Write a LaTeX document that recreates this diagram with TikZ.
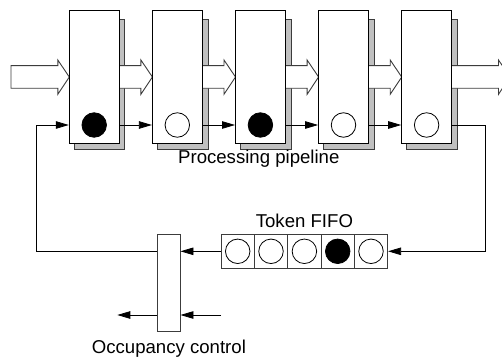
\documentclass[tikz,border=0pt]{standalone}
\usepackage{fontspec}
\setmainfont{Liberation Sans}
\usetikzlibrary{arrows.meta}
\definecolor{shade}{RGB}{192,192,192}
\definecolor{edge}{RGB}{60,60,60}
\tikzset{
  x=1pt, y=-1pt,
  stage/.style={draw=black, line width=0.8pt, fill=white, minimum width=50pt, minimum height=133.3pt, inner sep=0pt},
  shadowbox/.style={draw=edge, line width=0.8pt, fill=shade},
  token/.style={circle, draw=black, line width=0.8pt, minimum size=24.5pt, inner sep=0pt},
  full/.style={token, fill=black},
  empty/.style={token, fill=white},
  flow/.style={draw=edge, line width=0.9pt, fill=white},
  wire/.style={draw=black, line width=0.8pt},
  arr/.style={wire, -{Triangle[length=13pt, width=7.5pt]}},
  cell/.style={draw=edge, line width=0.8pt, fill=white, minimum width=33.3pt, minimum height=34pt, inner sep=0pt},
  ctrl/.style={draw=edge, line width=0.8pt, fill=white, minimum width=22.3pt, minimum height=97.4pt, inner sep=0pt},
  lbl/.style={font=\fontsize{18.6}{20}\selectfont, inner sep=0pt}
}
\begin{document}
\begin{tikzpicture}
\useasboundingbox (0,0) rectangle (502,358);
\clip (0,0) rectangle (502,358);

% drop shadows behind the pipeline stages
\foreach \i in {0,...,4}{
  \pgfmathsetmacro{\xl}{69.3+83.1*\i}
  \draw[shadowbox] (\xl+5,19) rectangle (\xl+55.5,149.3);
}

% wide data-flow arrows (left end open when leaving a stage)
\draw[flow] (11,65.7) -- (57.8,65.7) -- (57.8,60) -- (69.3,77) -- (57.8,94.3) -- (57.8,88.3) -- (11,88.3) -- cycle;
\foreach \i/\xb in {0/152.4,1/235.5,2/318.6,3/401.7,4/510}{
  \pgfmathsetmacro{\xa}{119.3+83.1*\i}
  \fill[white] (\xa,65.7) -- (\xb-11.5,65.7) -- (\xb-11.5,60) -- (\xb,77) -- (\xb-11.5,94.3) -- (\xb-11.5,88.3) -- (\xa,88.3) -- cycle;
  \draw[edge, line width=0.9pt] (\xa,65.7) -- (\xb-11.5,65.7) -- (\xb-11.5,60) -- (\xb,77) -- (\xb-11.5,94.3) -- (\xb-11.5,88.3) -- (\xa,88.3);
}

% pipeline stages
\node[stage] (p1) at (94.2,76.7) {};
\node[stage] (p2) at (177.3,76.7) {};
\node[stage] (p3) at (260.4,76.7) {};
\node[stage] (p4) at (343.5,76.7) {};
\node[stage] (p5) at (426.6,76.7) {};

% tokens held by the stages
\node[full]  (c1) at (p1 |- 0,125) {};
\node[empty] (c2) at (p2 |- 0,125) {};
\node[full]  (c3) at (p3 |- 0,125) {};
\node[empty] (c4) at (p4 |- 0,125) {};
\node[empty] (c5) at (p5 |- 0,125) {};

\draw[arr] (c1 -| p1.east) -- (c2 -| p2.west);
\draw[arr] (c2 -| p2.east) -- (c3 -| p3.west);
\draw[arr] (c3 -| p3.east) -- (c4 -| p4.west);
\draw[arr] (c4 -| p4.east) -- (c5 -| p5.west);

\node[lbl] (plabel) at (258.8,159) {Processing pipeline};

% token FIFO
\node[cell] (f1) at (237.7,251.3) {};
\node[cell] (f2) at (271.0,251.3) {};
\node[cell] (f3) at (304.4,251.3) {};
\node[cell] (f4) at (337.7,251.3) {};
\node[cell] (f5) at (371.0,251.3) {};
\node[empty] (k1) at (f1) {};
\node[empty] (k2) at (f2) {};
\node[empty] (k3) at (f3) {};
\node[full]  (k4) at (f4) {};
\node[empty] (k5) at (f5) {};
\node[lbl] (flabel) at (f3 |- 0,220.5) {Token FIFO};

% occupancy control
\node[ctrl] (oc) at (168.9,283) {};
\node[lbl] (olabel) at (oc |- 0,348.5) {Occupancy control};

% return path from the last stage into the FIFO
\coordinate (r1) at (485,125);
\coordinate (r2) at (485,251.3);
\draw[arr] (c5 -| p5.east) -- (r1) -- (r2) -- (f5.east);

% FIFO output into occupancy control, then back to the first stage
\draw[arr] (f1.west) -- (f1.west -| oc.east);
\coordinate (l1) at (36,251.3);
\coordinate (l2) at (36,125);
\draw[arr] (f1.west -| oc.west) -- (l1) -- (l2) -- (c1 -| p1.west);

% occupancy control side inputs and outputs
\coordinate (inB) at (221,315);
\coordinate (outB) at (117.3,315);
\draw[arr] (inB) -- (inB -| oc.east);
\draw[arr] (inB -| oc.west) -- (outB);
\end{tikzpicture}
\end{document}
